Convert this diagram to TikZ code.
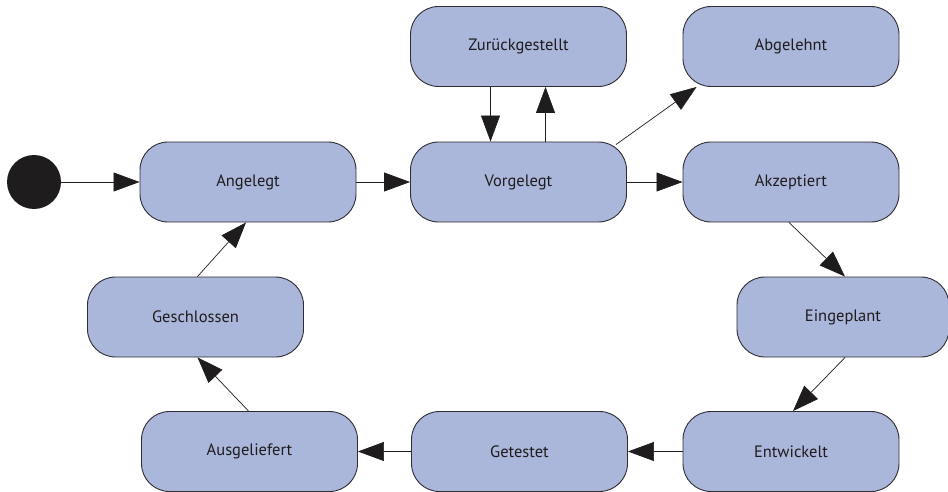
\documentclass[tikz,border=0pt]{standalone}
\usepackage{fontspec}
\setmainfont{PT Sans}
\usetikzlibrary{arrows.meta}
\definecolor{boxfill}{RGB}{171,182,219}
\definecolor{boxline}{RGB}{45,45,50}
\definecolor{ink}{RGB}{30,28,28}
\begin{document}
\begin{tikzpicture}[x=1pt,y=-1pt,
  state/.style={draw=boxline, line width=0.9pt, fill=boxfill, rounded corners=28pt,
    minimum width=216pt, minimum height=80pt, inner sep=0pt, font=\fontsize{16.5}{20}\selectfont, text=ink},
  conn/.style={draw=ink, line width=0.7pt, -{Triangle[length=26pt,width=19pt]}}
]
\useasboundingbox (0,0) rectangle (948,492);
\node[circle, fill=ink, minimum size=54pt, inner sep=0pt] (start) at (34,182) {};
\node[state] (ang) at (248,182) {Angelegt};
\node[state] (vor) at (518.5,182) {Vorgelegt};
\node[state] (zur) at (518.5,46.5) {Zurückgestellt};
\node[state] (abg) at (791,46.5) {Abgelehnt};
\node[state] (akz) at (791,182) {Akzeptiert};
\node[state, minimum width=212pt] (ein) at (843,317) {Eingeplant};
\node[state] (ent) at (791,451.5) {Entwickelt};
\node[state] (get) at (519.5,451.5) {Getestet};
\node[state] (aus) at (249.5,451.5) {Ausgeliefert};
\node[state] (ges) at (195.5,317) {Geschlossen};
\draw[conn] (start) -- (ang);
\draw[conn] (ang) -- (vor);
\draw[conn] ([xshift=-28pt]zur.south) -- ([xshift=-28pt]vor.north);
\draw[conn] ([xshift=27pt]vor.north) -- ([xshift=27pt]zur.south);
\draw[conn] ([xshift=-11pt,yshift=-3pt]vor.north east) -- ([xshift=14pt]abg.south west);
\draw[conn] (vor) -- (akz);
\draw[conn] ([xshift=-2pt]akz.south) -- ([xshift=2pt]ein.north);
\draw[conn] ([xshift=2pt]ein.south) -- ([xshift=2pt]ent.north);
\draw[conn] (ent) -- (get);
\draw[conn] (get) -- (aus);
\draw[conn] ([xshift=-1pt]aus.north) -- ([xshift=2pt]ges.south);
\draw[conn] ([xshift=2pt]ges.north) -- ([xshift=-2pt]ang.south);
\end{tikzpicture}
\end{document}
